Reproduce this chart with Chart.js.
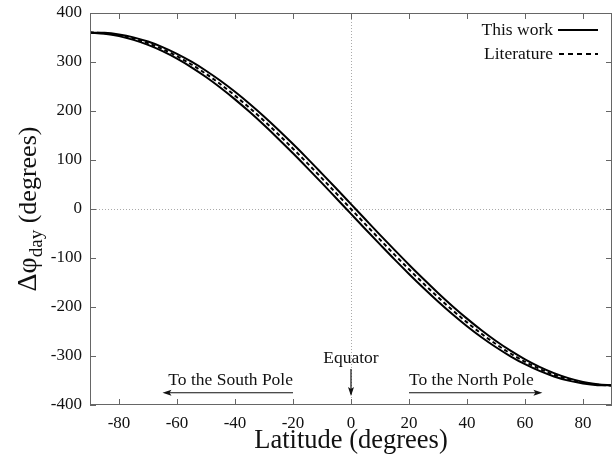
<!DOCTYPE html>
<html lang="en">
  <head>
    <meta charset="UTF-8" />
    <title>Foucault pendulum rotation per day</title>
    <script src="https://cdn.jsdelivr.net/npm/chart.js"></script>
    <style>
      html, body { margin: 0; padding: 0; background: #fff; }
      #wrap { width: 616px; height: 459px; }
    </style>
  </head>
  <body>
    <div id="wrap"><canvas id="phiChart"></canvas></div>
    <script>
      // latitude samples (degrees)
      const latitudes = [-90, -85, -80, -75, -70, -65, -60, -55, -50, -45, -40, -35, -30, -25, -20, -15, -10, -5,
        0, 5, 10, 15, 20, 25, 30, 35, 40, 45, 50, 55, 60, 65, 70, 75, 80, 85, 90];
      // this work, upper and lower curves
      const thisWorkUpper = [360, 359.5, 356.2, 350.3, 341.7, 330.5, 316.8, 300.6, 282.2, 261.7, 239.1, 214.7, 188.7,
        161.2, 132.5, 102.9, 72.3, 41.4, 10, -21.4, -52.7, -83.5, -113.7, -143.0, -171.3, -198.3, -223.7, -247.5,
        -269.4, -289.2, -306.8, -322.1, -334.9, -345.1, -352.8, -357.7, -360];
      const thisWorkLower = [360, 357.7, 352.8, 345.1, 334.9, 322.1, 306.8, 289.2, 269.4, 247.5, 223.7, 198.3, 171.3,
        143.0, 113.7, 83.5, 52.7, 21.4, -10, -41.4, -72.3, -102.9, -132.5, -161.2, -188.7, -214.7, -239.1, -261.7,
        -282.2, -300.6, -316.8, -330.5, -341.7, -350.3, -356.2, -359.5, -360];
      // literature
      const literature = [360, 358.6, 354.5, 347.7, 338.3, 326.3, 311.8, 294.9, 275.8, 254.6, 231.4, 206.5, 180,
        152.1, 123.1, 93.2, 62.5, 31.4, 0, -31.4, -62.5, -93.2, -123.1, -152.1, -180, -206.5, -231.4, -254.6,
        -275.8, -294.9, -311.8, -326.3, -338.3, -347.7, -354.5, -358.6, -360];

      const xTicks = [-80, -60, -40, -20, 0, 20, 40, 60, 80];
      const yTicks = [-400, -300, -200, -100, 0, 100, 200, 300, 400];

      const FONT = "'Liberation Serif', 'DejaVu Serif', serif";
      const AXIS_COLOR = "#666";

      function toPoints(values) {
        return latitudes.map((lat, i) => ({ x: lat, y: values[i] }));
      }

      // box, inward ticks, zero lines, legend, titles and pole arrows
      const decorations = {
        id: "decorations",
        beforeDatasetsDraw(chart) {
          const { ctx, chartArea: a, scales: { x, y } } = chart;
          ctx.save();
          ctx.strokeStyle = "#aaa";
          ctx.lineWidth = 1;
          ctx.setLineDash([1, 2]);
          const x0 = Math.round(x.getPixelForValue(0)) + 0.5;
          const y0 = Math.round(y.getPixelForValue(0)) + 0.5;
          ctx.beginPath();
          ctx.moveTo(x0, a.top); ctx.lineTo(x0, a.bottom);
          ctx.moveTo(a.left, y0); ctx.lineTo(a.right, y0);
          ctx.stroke();
          ctx.restore();
        },
        afterDraw(chart) {
          const { ctx, chartArea: a, scales: { x, y } } = chart;
          ctx.save();
          ctx.strokeStyle = AXIS_COLOR;
          ctx.lineWidth = 1;
          ctx.strokeRect(a.left + 0.5, a.top + 0.5, a.right - a.left - 1, a.bottom - a.top - 1);
          ctx.beginPath();
          xTicks.forEach(v => {
            const px = Math.round(x.getPixelForValue(v)) + 0.5;
            ctx.moveTo(px, a.bottom); ctx.lineTo(px, a.bottom - 6);
            ctx.moveTo(px, a.top); ctx.lineTo(px, a.top + 6);
          });
          yTicks.forEach(v => {
            const py = Math.round(y.getPixelForValue(v)) + 0.5;
            ctx.moveTo(a.left, py); ctx.lineTo(a.left + 6, py);
            ctx.moveTo(a.right, py); ctx.lineTo(a.right - 6, py);
          });
          ctx.stroke();

          // legend
          ctx.fillStyle = "#111";
          ctx.font = "17.5px " + FONT;
          ctx.textAlign = "right";
          ctx.textBaseline = "middle";
          ctx.fillText("This work", 553, 30);
          ctx.fillText("Literature", 553, 54);
          ctx.strokeStyle = "#000";
          ctx.lineWidth = 2;
          ctx.beginPath(); ctx.moveTo(558, 30); ctx.lineTo(598, 30); ctx.stroke();
          ctx.setLineDash([5, 4]);
          ctx.beginPath(); ctx.moveTo(559, 54); ctx.lineTo(598, 54); ctx.stroke();
          ctx.setLineDash([]);

          // x title
          ctx.font = "26.5px " + FONT;
          ctx.textAlign = "center";
          ctx.textBaseline = "middle";
          ctx.fillText("Latitude (degrees)", (a.left + a.right) / 2, 441);

          // y title with subscript
          ctx.translate(27, (a.top + a.bottom) / 2);
          ctx.rotate(-Math.PI / 2);
          const parts = [["\u0394\u03c6", "28px ", 0], ["day", "19px ", 6], [" (degrees)", "26px ", 0]];
          let total = 0;
          parts.forEach(p => { ctx.font = p[1] + FONT; total += ctx.measureText(p[0]).width; });
          let cx = -total / 2;
          ctx.textAlign = "left";
          ctx.textBaseline = "alphabetic";
          parts.forEach(p => {
            ctx.font = p[1] + FONT;
            ctx.fillText(p[0], cx, 9 + p[2]);
            cx += ctx.measureText(p[0]).width;
          });
          ctx.restore();

          // equator and pole arrows
          ctx.save();
          ctx.fillStyle = "#111";
          ctx.strokeStyle = "#111";
          ctx.font = "17.5px " + FONT;
          ctx.textAlign = "center";
          ctx.textBaseline = "alphabetic";
          const ex = x.getPixelForValue(0);
          ctx.fillText("Equator", ex, 363);
          ctx.lineWidth = 1.2;
          ctx.beginPath(); ctx.moveTo(ex, 369); ctx.lineTo(ex, 394); ctx.stroke();
          arrowHead(ctx, ex, 396, 0, 1);

          const ay = y.getPixelForValue(-375);
          const sL = x.getPixelForValue(-20), sR = x.getPixelForValue(-65);
          const nL = x.getPixelForValue(20), nR = x.getPixelForValue(66);
          ctx.textAlign = "right";
          ctx.fillText("To the South Pole", sL, ay - 8);
          ctx.textAlign = "left";
          ctx.fillText("To the North Pole", nL, ay - 8);
          ctx.beginPath();
          ctx.moveTo(sL, ay); ctx.lineTo(sR + 4, ay);
          ctx.moveTo(nL, ay); ctx.lineTo(nR - 4, ay);
          ctx.stroke();
          arrowHead(ctx, sR, ay, -1, 0);
          arrowHead(ctx, nR, ay, 1, 0);
          ctx.restore();
        }
      };

      function arrowHead(ctx, tx, ty, dx, dy) {
        const len = 9, half = 3;
        const bx = tx - dx * len, by = ty - dy * len;
        ctx.beginPath();
        ctx.moveTo(tx, ty);
        ctx.lineTo(bx - dy * half, by + dx * half);
        ctx.lineTo(bx - dx * -2, by - dy * -2);
        ctx.lineTo(bx + dy * half, by - dx * half);
        ctx.closePath();
        ctx.fill();
      }

      new Chart(document.getElementById("phiChart"), {
        type: "line",
        data: {
          datasets: [
            {
              label: "This work",
              data: toPoints(thisWorkUpper),
              borderColor: "#000",
              borderWidth: 2,
              pointRadius: 0,
              cubicInterpolationMode: "monotone",
            },
            {
              label: "This work (lower)",
              data: toPoints(thisWorkLower),
              borderColor: "#000",
              borderWidth: 2,
              pointRadius: 0,
              cubicInterpolationMode: "monotone",
            },
            {
              label: "Literature",
              data: toPoints(literature),
              borderColor: "#000",
              borderWidth: 2,
              borderDash: [4, 3],
              pointRadius: 0,
              cubicInterpolationMode: "monotone",
            },
          ],
        },
        options: {
          responsive: true,
          maintainAspectRatio: false,
          animation: false,
          layout: { padding: { left: 0, top: 13, right: 4, bottom: 0 } },
          plugins: { legend: { display: false }, tooltip: { enabled: false } },
          scales: {
            x: {
              type: "linear",
              min: -90,
              max: 90,
              grid: { display: false },
              border: { display: false },
              afterBuildTicks: s => { s.ticks = xTicks.map(v => ({ value: v })); },
              afterFit: s => { s.height = 54; },
              ticks: { color: "#111", padding: 0, maxRotation: 0, font: { family: FONT, size: 17 } },
            },
            y: {
              min: -400,
              max: 400,
              grid: { display: false },
              border: { display: false },
              afterBuildTicks: s => { s.ticks = yTicks.map(v => ({ value: v })); },
              afterFit: s => { s.width = 90; },
              ticks: { color: "#111", padding: 0, font: { family: FONT, size: 17 } },
            },
          },
        },
        plugins: [decorations],
      });
    </script>
  </body>
</html>
